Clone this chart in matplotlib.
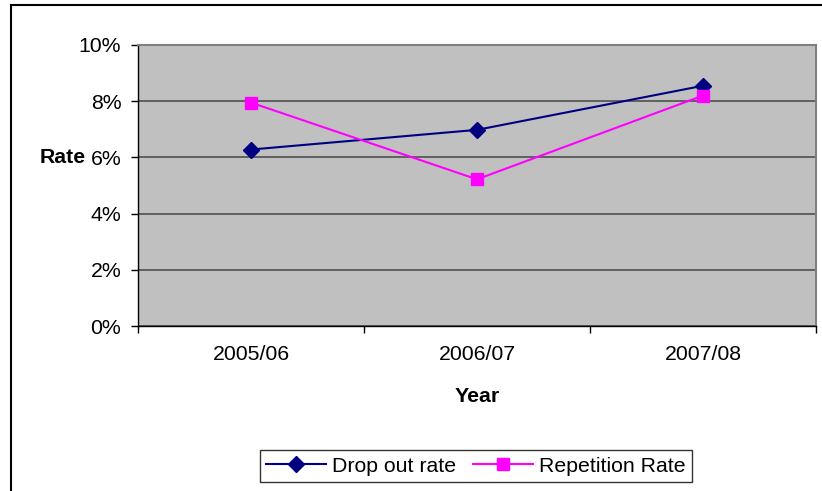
import matplotlib
matplotlib.use("Agg")
import matplotlib.pyplot as plt
from matplotlib.lines import Line2D
from matplotlib.ticker import FixedLocator, PercentFormatter

years = ["2005/06", "2006/07", "2007/08"]
dropout = [6.28, 6.98, 8.55]
repetition = [7.95, 5.22, 8.20]
yticks = [0, 2, 4, 6, 8, 10]

plt.rcParams['font.family'] = ['Liberation Sans', 'DejaVu Sans']
FS = 15.3

W, H = 822, 491
fig = plt.figure(figsize=(W/100, H/100), dpi=100)
ax = fig.add_axes([138/W, 1-326/H, (816-138)/W, (326-45)/H])
ax.set_facecolor('#C0C0C0')

x = list(range(len(years)))
ax.plot(x, dropout, color='#000080', lw=1.5, marker='D', markersize=8,
        label='Drop out rate', zorder=3)
ax.plot(x, repetition, color='#FF00FF', lw=1.5, marker='s', markersize=8,
        label='Repetition Rate', zorder=3)

ax.set_xlim(-0.5, 2.5)
ax.set_ylim(0, 10)
ax.set_yticks(yticks)
ax.yaxis.set_major_formatter(PercentFormatter(decimals=0))
ax.yaxis.grid(True, color='#505050', lw=1.2)
ax.set_axisbelow(True)

ax.set_xticks(x)
ax.set_xticklabels(years)
ax.xaxis.set_minor_locator(FixedLocator([-0.5, 0.5, 1.5, 2.5]))
ax.tick_params(axis='x', which='major', length=0, pad=14, labelsize=FS)
ax.tick_params(axis='x', which='minor', length=5, width=1, color='#000000', direction='out')
ax.tick_params(axis='y', length=5, width=1, direction='out', labelsize=FS, pad=7)

for s in ['top', 'right']:
    ax.spines[s].set_color('#808080')
    ax.spines[s].set_linewidth(1.5)
ax.spines['left'].set_color('#000000')
ax.spines['bottom'].set_color('#000000')
ax.spines['left'].set_linewidth(1.0)
ax.spines['bottom'].set_linewidth(1.0)

fig.text(40/W, 1-157/H, 'Rate', fontsize=FS, fontweight='bold', va='center', ha='left')
fig.text(477/W, 1-397/H, 'Year', fontsize=FS, fontweight='bold', va='center', ha='center')

leg = fig.legend(loc='center', bbox_to_anchor=(476/W, 1-466/H), ncol=2,
                 frameon=True, fancybox=False, fontsize=FS, handlelength=2.8,
                 columnspacing=0.8, handletextpad=0.3, borderpad=0.3,
                 edgecolor='#000000')
leg.get_frame().set_linewidth(1.0)

# outer chart border
fig.add_artist(Line2D([11/W, 11/W], [0, 1-5/H], color='#000000', lw=1.5, transform=fig.transFigure))
fig.add_artist(Line2D([11/W, 1], [1-5/H, 1-5/H], color='#000000', lw=1.5, transform=fig.transFigure))

fig.savefig('out.png', dpi=100)
